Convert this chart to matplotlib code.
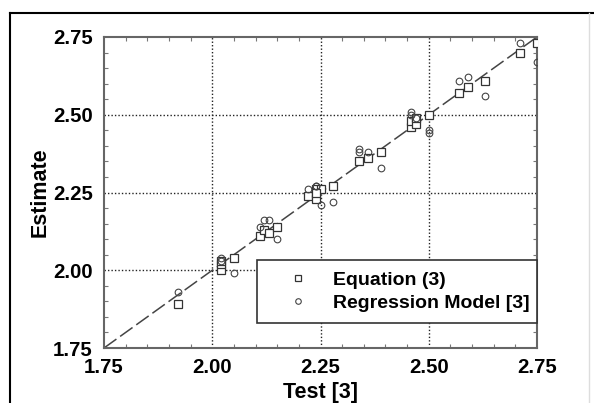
import matplotlib
matplotlib.use("Agg")
import matplotlib.pyplot as plt
from matplotlib.ticker import MultipleLocator
from matplotlib.lines import Line2D

plt.rcParams['font.family'] = ['Liberation Sans', 'DejaVu Sans']

# Equation (3): test vs estimate
eq_test = [1.92, 2.02, 2.02, 2.02, 2.05, 2.11, 2.12, 2.13, 2.15, 2.22, 2.24, 2.24, 2.25, 2.24,
           2.28, 2.34, 2.36, 2.39, 2.46, 2.46, 2.47, 2.47, 2.50, 2.57, 2.59, 2.63, 2.71, 2.75]
eq_est = [1.89, 2.00, 2.02, 2.03, 2.04, 2.11, 2.13, 2.12, 2.14, 2.24, 2.23, 2.26, 2.26, 2.25,
          2.27, 2.35, 2.36, 2.38, 2.46, 2.48, 2.47, 2.49, 2.50, 2.57, 2.59, 2.61, 2.70, 2.73]

# Regression Model [3]
rm_test = [1.92, 2.02, 2.02, 2.05, 2.11, 2.12, 2.13, 2.15, 2.22, 2.24, 2.24, 2.25, 2.28,
           2.34, 2.34, 2.36, 2.39, 2.46, 2.46, 2.47, 2.50, 2.50, 2.57, 2.59, 2.63, 2.71, 2.75]
rm_est = [1.93, 2.04, 2.03, 1.99, 2.14, 2.16, 2.16, 2.10, 2.26, 2.27, 2.27, 2.21, 2.22,
          2.39, 2.38, 2.38, 2.33, 2.51, 2.50, 2.49, 2.45, 2.44, 2.61, 2.62, 2.56, 2.73, 2.67]

line_x = [1.75, 2.75]
ticks = [1.75, 2.00, 2.25, 2.50, 2.75]
tick_labels = ["1.75", "2.00", "2.25", "2.50", "2.75"]

fig = plt.figure(figsize=(5.94, 4.03), dpi=100)
ax = fig.add_axes([104/594, 1 - 348/403, (537-104)/594, (348-37)/403])

ax.plot(line_x, line_x, color='#444444', lw=1.1, dashes=(10, 3), zorder=2)
ax.plot(eq_test, eq_est, linestyle='none', marker='s', markersize=5.6,
        markerfacecolor='white', markeredgecolor='#333333', markeredgewidth=0.9, zorder=3)
ax.plot(rm_test, rm_est, linestyle='none', marker='o', markersize=4.8,
        markerfacecolor='none', markeredgecolor='#444444', markeredgewidth=0.8, zorder=3)

ax.set_xlim(1.75, 2.75)
ax.set_ylim(1.75, 2.75)
ax.set_xticks(ticks)
ax.set_xticklabels(tick_labels)
ax.set_yticks(ticks)
ax.set_yticklabels(tick_labels)
ax.xaxis.set_minor_locator(MultipleLocator(0.05))
ax.yaxis.set_minor_locator(MultipleLocator(0.05))
ax.tick_params(which='major', direction='in', length=0, labelsize=14.7)
ax.tick_params(axis='x', which='major', pad=7)
ax.tick_params(axis='y', which='major', pad=8)
ax.tick_params(which='minor', direction='in', length=3, width=0.8, color='#777777',
               top=True, right=True)
for lab in ax.get_xticklabels() + ax.get_yticklabels():
    lab.set_fontweight('bold')

for v in [2.00, 2.25, 2.50]:
    ax.axvline(v, color='#222222', lw=1.0, ls=(0, (1, 1.5)), zorder=1)
    ax.axhline(v, color='#222222', lw=1.0, ls=(0, (1, 1.5)), zorder=1)

for s in ax.spines.values():
    s.set_color('#666666')
    s.set_linewidth(1.5)

ax.set_xlabel("Test [3]", fontsize=15.5, fontweight='bold', labelpad=4)
ax.set_ylabel("Estimate", fontsize=15.5, fontweight='bold', labelpad=2)

handles = [Line2D([], [], linestyle='none', marker='s', markersize=4.5, markerfacecolor='white',
                  markeredgecolor='#333333', markeredgewidth=0.9),
           Line2D([], [], linestyle='none', marker='o', markersize=4, markerfacecolor='none',
                  markeredgecolor='#444444', markeredgewidth=0.8)]
leg = ax.legend(handles, ["Equation (3)", "Regression Model [3]"],
                loc='upper left', bbox_to_anchor=((257-104)/433, (348-260)/311, (537-257)/433, 0.0),
                mode='expand', prop={'weight': 'bold', 'size': 14}, fancybox=False,
                framealpha=1, edgecolor='#333333', borderpad=0.6, labelspacing=0.25,
                handletextpad=0.33, handlelength=3.0, borderaxespad=0)
leg.get_frame().set_linewidth(1.2)
leg.set_zorder(5)

# outer frame
fig.add_artist(Line2D([10/594, 10/594], [0, 1 - 13/403], color='black', lw=1.5, transform=fig.transFigure))
fig.add_artist(Line2D([10/594, 1.0], [1 - 13/403, 1 - 13/403], color='black', lw=1.5, transform=fig.transFigure))
fig.add_artist(Line2D([589/594, 589/594], [0, 1 - 13/403], color='#dddddd', lw=1.0, transform=fig.transFigure))

fig.savefig("out.png", dpi=100)
